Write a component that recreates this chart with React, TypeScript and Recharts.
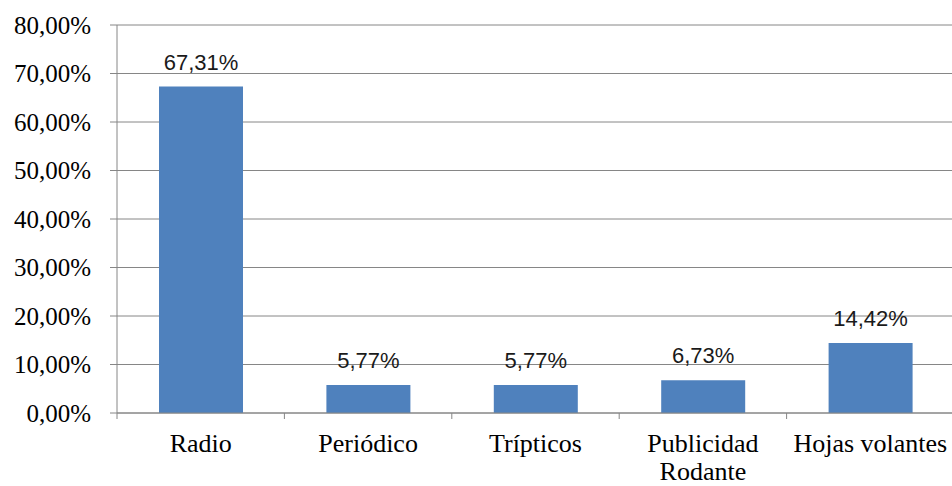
import { BarChart, Bar, XAxis, YAxis, CartesianGrid, LabelList } from "recharts";

const CATEGORIES = ["Radio", "Periódico", "Trípticos", "Publicidad\nRodante", "Hojas volantes"];
const VALUES = [67.31, 5.77, 5.77, 6.73, 14.42];
const Y_TICKS = [0, 10, 20, 30, 40, 50, 60, 70, 80];

const data = CATEGORIES.map((name, i) => ({ name, value: VALUES[i] }));

const pct = (v: number) => v.toFixed(2).replace(".", ",") + "%";

const AXIS = "#868686";
const SERIF = "'Liberation Serif', 'Times New Roman', serif";
const SANS = "'Liberation Sans', Arial, sans-serif";

function CategoryTick(props: any) {
  const { x, y, payload } = props;
  const half = payload?.offset ?? 0;
  const lines = String(payload.value).split("\n");
  return (
    <g>
      <line x1={x - half} y1={y - 8} x2={x - half} y2={y - 2} stroke={AXIS} strokeWidth={1} />
      <text x={x} y={y + 13} textAnchor="middle" style={{ fontFamily: SERIF, fontSize: 26 }} fill="#000">
        {lines.map((l, i) => (
          <tspan key={i} x={x} dy={i === 0 ? "0.71em" : 28}>
            {l}
          </tspan>
        ))}
      </text>
    </g>
  );
}

function ValueTick(props: any) {
  const { x, y, payload } = props;
  return (
    <text x={x} y={y} dy="0.355em" textAnchor="end" style={{ fontFamily: SERIF, fontSize: 25 }} fill="#000">
      {pct(Number(payload.value))}
    </text>
  );
}

export default function App() {
  return (
    <div style={{ position: "fixed", left: 0, top: 0, width: 952, height: 486, background: "#fff" }}>
      <BarChart
        width={952}
        height={486}
        data={data}
        margin={{ top: 25, right: -2, bottom: 0, left: 0 }}
        barSize={84}
      >
        <CartesianGrid vertical={false} stroke={AXIS} strokeWidth={1} />
        <XAxis
          dataKey="name"
          height={73}
          interval={0}
          axisLine={{ stroke: AXIS }}
          tickLine={false}
          tickSize={6}
          tick={<CategoryTick />}
        />
        <YAxis
          width={117}
          domain={[0, 80]}
          ticks={Y_TICKS}
          interval={0}
          axisLine={{ stroke: AXIS }}
          tickLine={{ stroke: AXIS }}
          tickSize={7}
          tickMargin={19}
          tick={<ValueTick />}
        />
        <Bar dataKey="value" fill="#4F81BD" isAnimationActive={false}>
          <LabelList
            dataKey="value"
            position="top"
            offset={17}
            formatter={(v: any) => pct(Number(v))}
            style={{ fontFamily: SANS, fontSize: 22, fill: "#1a1a1a" }}
          />
        </Bar>
      </BarChart>
    </div>
  );
}
